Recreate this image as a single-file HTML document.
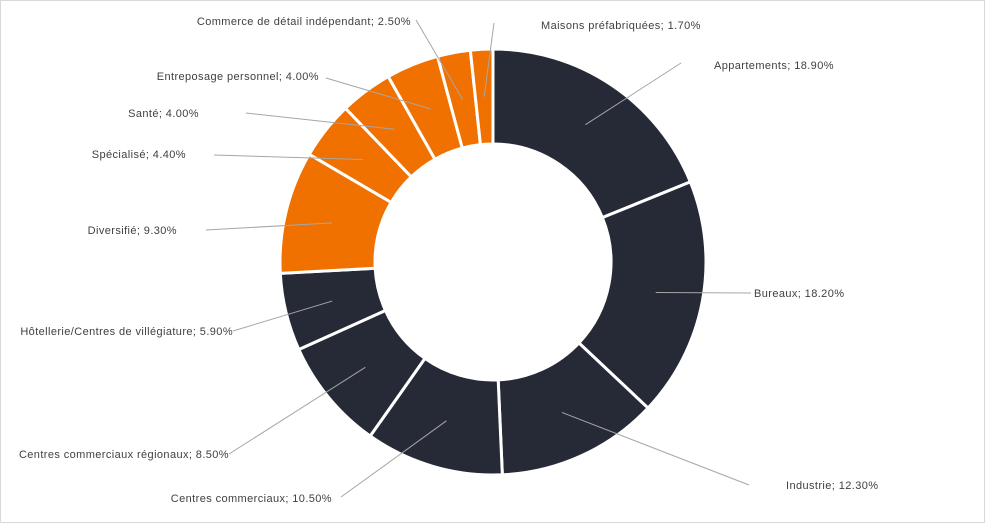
<!DOCTYPE html>
<html><head><meta charset="utf-8">
<style>
html,body{margin:0;padding:0;background:#fff;}
#chart{width:985px;height:523px;position:relative;box-sizing:border-box;border:1px solid #d9d9d9;}
svg text{font-family:"Liberation Sans",sans-serif;font-size:11px;fill:#404040;letter-spacing:0.4px;}
</style></head>
<body>
<div id="chart">
<svg id="svg" width="983" height="521"></svg>
</div>
<script>
const categories = ["Appartements","Bureaux","Industrie","Centres commerciaux","Centres commerciaux régionaux","Hôtellerie/Centres de villégiature","Diversifié","Spécialisé","Santé","Entreposage personnel","Commerce de détail indépendant","Maisons préfabriquées"];
const values = [18.9,18.2,12.3,10.5,8.5,5.9,9.3,4.4,4.0,4.0,2.5,1.7];
const groups = ["dark","dark","dark","dark","dark","dark","orange","orange","orange","orange","orange","orange"];
const labelLayout = [
 {lx:680,ly:62,tx:713,ty:68,anchor:"start"},
 {lx:750,ly:292,tx:753,ty:296,anchor:"start"},
 {lx:748,ly:484,tx:785,ty:488,anchor:"start"},
 {lx:340,ly:496,tx:331,ty:501,anchor:"end"},
 {lx:228,ly:453,tx:228,ty:457,anchor:"end"},
 {lx:232,ly:330,tx:232,ty:334,anchor:"end"},
 {lx:205,ly:229,tx:176,ty:233,anchor:"end"},
 {lx:213,ly:154,tx:185,ty:157,anchor:"end"},
 {lx:245,ly:112,tx:198,ty:116,anchor:"end"},
 {lx:325,ly:77,tx:318,ty:79,anchor:"end"},
 {lx:415,ly:19,tx:410,ty:24,anchor:"end"},
 {lx:493,ly:22,tx:540,ty:28,anchor:"start"}
];
const colors = {dark:"#262a37",orange:"#f07000"};
const NS="http://www.w3.org/2000/svg";
const svg=document.getElementById("svg");
const cx=492,cy=261,R=213,r=118;
const total=values.reduce((a,b)=>a+b,0);
function pt(a,rad){return [cx+rad*Math.sin(a),cy-rad*Math.cos(a)];}
let acc=0;
values.forEach((v,i)=>{
  const a0=acc/total*2*Math.PI; acc+=v; const a1=acc/total*2*Math.PI;
  const large=(a1-a0)>Math.PI?1:0;
  const p0=pt(a0,R),p1=pt(a1,R),q1=pt(a1,r),q0=pt(a0,r);
  const path=document.createElementNS(NS,"path");
  path.setAttribute("d",`M${p0[0]},${p0[1]} A${R},${R} 0 ${large} 1 ${p1[0]},${p1[1]} L${q1[0]},${q1[1]} A${r},${r} 0 ${large} 0 ${q0[0]},${q0[1]} Z`);
  path.setAttribute("fill",colors[groups[i]]);
  path.setAttribute("stroke","#fff");
  path.setAttribute("stroke-width","3");
  
  
  svg.appendChild(path);
  const am=(a0+a1)/2, m=pt(am,(R+r)/2), L=labelLayout[i];
  const line=document.createElementNS(NS,"line");
  line.setAttribute("x1",m[0]);line.setAttribute("y1",m[1]);
  line.setAttribute("x2",L.lx);line.setAttribute("y2",L.ly);
  line.setAttribute("stroke","#a6a6a6");line.setAttribute("stroke-width","1");
  
  
  svg.appendChild(line);
  const t=document.createElementNS(NS,"text");
  t.setAttribute("x",L.tx);t.setAttribute("y",L.ty);t.setAttribute("text-anchor",L.anchor);
  t.textContent=categories[i]+"; "+v.toFixed(2)+"%";
  
  
  svg.appendChild(t);
});
</script>
</body></html>
